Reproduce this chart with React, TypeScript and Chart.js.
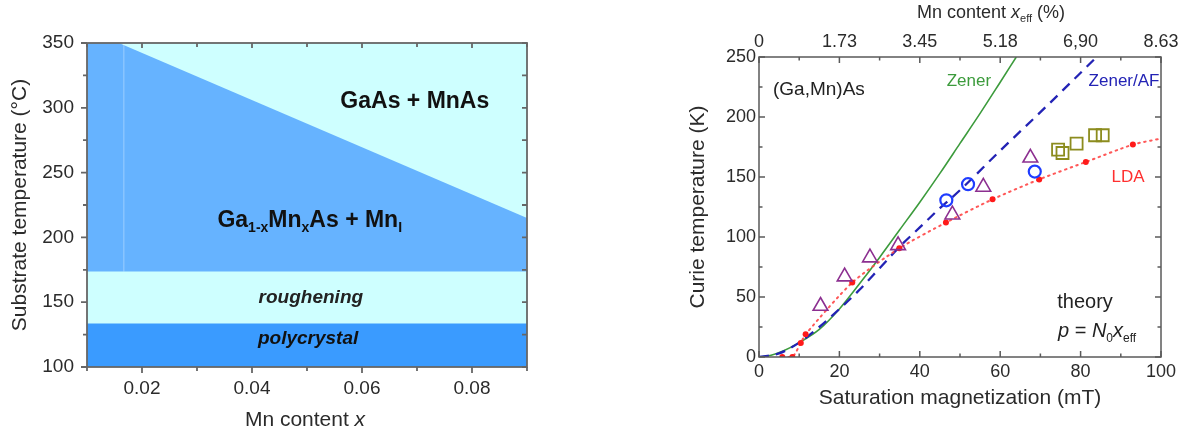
import React, { useEffect, useRef } from "react";
import { Chart, registerables } from "chart.js";
Chart.register(...registerables);

const FONT = 'Arial, "Liberation Sans", Helvetica, sans-serif';
const TEXT = "#2b2b2b";

// ---------- Left panel: growth phase diagram ----------
const mnContentRange = [0.01, 0.09];
const mnContentTicks = [0.02, 0.04, 0.06, 0.08];
const mnContentMinor = [0.01, 0.03, 0.05, 0.07, 0.09];
const substrateTempRange = [100, 350];
const substrateTempTicks = [100, 150, 200, 250, 300, 350];
const substrateTempMinor = [125, 175, 225, 275, 325];
const backgroundX = [0.01, 0.09];
const backgroundT = [350, 350];
const mnAsBoundaryX = [0.01, 0.0158, 0.09];
const mnAsBoundaryT = [350, 350, 215];
const seamX = [0.0167, 0.0167];
const seamT = [173.6, 350];
const roughBoundaryX = [0.01, 0.09];
const roughBoundaryT = [173.6, 173.6];
const polyBoundaryX = [0.01, 0.09];
const polyBoundaryT = [133.6, 133.6];

// ---------- Right panel: Curie temperature ----------
const magRange = [0, 100];
const magTicks = [0, 20, 40, 60, 80, 100];
const magMinor = [10, 30, 50, 70, 90];
const xeffLabels = ["0", "1.73", "3.45", "5.18", "6,90", "8.63"];
const curieRange = [0, 250];
const curieTicks = [0, 50, 100, 150, 200, 250];
const curieMinor = [25, 75, 125, 175, 225];

const zenerM = [0, 3, 6, 10, 15, 20, 25, 30, 35, 40, 45, 50, 55, 60, 64];
const zenerTc = [0, 1.5, 5, 12, 23, 40, 61, 83, 106, 129, 153, 178, 203, 229, 250];
const zenerAfM = [0, 5, 10, 15, 20, 25, 30, 35, 40, 45, 50, 60, 70, 84];
const zenerAfTc = [0, 3, 12, 25, 40, 56, 74, 92, 108, 124, 139, 172, 204, 250];
const ldaM = [5.8, 8.3, 10.4, 11.6, 23.2, 34.9, 46.5, 58.1, 69.7, 81.3, 93];
const ldaTc = [0, 0, 11.7, 19, 62, 90.6, 112, 131.4, 148, 162.5, 177];
const ldaTailM = [100];
const ldaTailTc = [182];
const triM = [15.3, 21.3, 27.6, 34.6, 48.1, 55.8, 67.5];
const triTc = [42.5, 67, 82.8, 93, 118.6, 141.7, 166];
const circM = [46.6, 52, 68.6];
const circTc = [130.6, 144, 154.5];
const sqM = [74.4, 75.5, 79, 83.6, 85.5];
const sqTc = [172.8, 170, 177.8, 184.8, 184.8];

const pts = (xs: number[], ys: number[]) => xs.map((x, i) => ({ x, y: ys[i] }));

type Seg = { t: string; i?: boolean; b?: boolean; sub?: boolean };
type Note = { x: number; y: number; segs: Seg[]; size: number; color: string; data?: boolean };

function drawRich(ctx: CanvasRenderingContext2D, x: number, y: number, segs: Seg[], size: number, color: string) {
  const fontFor = (s: Seg) =>
    `${s.i ? "italic " : ""}${s.b ? "bold " : ""}${s.sub ? Math.round(size * 0.6) : size}px ${FONT}`;
  let w = 0;
  for (const s of segs) {
    ctx.font = fontFor(s);
    w += ctx.measureText(s.t).width;
  }
  let cx = x - w / 2;
  ctx.textAlign = "left";
  ctx.textBaseline = "middle";
  ctx.fillStyle = color;
  for (const s of segs) {
    ctx.font = fontFor(s);
    ctx.fillText(s.t, cx, y + (s.sub ? size * 0.33 : 0));
    cx += ctx.measureText(s.t).width;
  }
}

function notesPlugin(notes: Note[]) {
  return {
    id: "notes",
    afterDatasetsDraw(chart: any) {
      const ctx = chart.ctx as CanvasRenderingContext2D;
      ctx.save();
      for (const n of notes) {
        const px = n.data ? chart.scales.x.getPixelForValue(n.x) : n.x;
        const py = n.data ? chart.scales.y.getPixelForValue(n.y) : n.y;
        drawRich(ctx, px, py, n.segs, n.size, n.color);
      }
      ctx.restore();
    },
  };
}

type Side = {
  side: "left" | "right" | "top" | "bottom";
  scale: string;
  major: number[];
  minor: number[];
  dir: "in" | "out";
  majorLen: number;
  minorLen: number;
};

function framePlugin(color: string, width: number, sides: Side[]) {
  return {
    id: "frame",
    afterDraw(chart: any) {
      const { ctx, chartArea: a } = chart;
      ctx.save();
      ctx.strokeStyle = color;
      ctx.lineWidth = width;
      ctx.strokeRect(a.left, a.top, a.right - a.left, a.bottom - a.top);
      ctx.beginPath();
      for (const s of sides) {
        const sc = chart.scales[s.scale];
        const sign = s.dir === "in" ? 1 : -1;
        const add = (vals: number[], len: number) =>
          vals.forEach((v) => {
            const p = sc.getPixelForValue(v);
            if (s.side === "left") {
              ctx.moveTo(a.left, p);
              ctx.lineTo(a.left + sign * len, p);
            } else if (s.side === "right") {
              ctx.moveTo(a.right, p);
              ctx.lineTo(a.right - sign * len, p);
            } else if (s.side === "top") {
              ctx.moveTo(p, a.top);
              ctx.lineTo(p, a.top + sign * len);
            } else {
              ctx.moveTo(p, a.bottom);
              ctx.lineTo(p, a.bottom - sign * len);
            }
          });
        add(s.major, s.majorLen);
        add(s.minor, s.minorLen);
      }
      ctx.stroke();
      ctx.restore();
    },
  };
}

const NONE = "rgba(0,0,0,0)";

function leftConfig(): any {
  const area = (xs: number[], ys: number[], color: string) => ({
    data: pts(xs, ys),
    backgroundColor: color,
    borderColor: NONE,
    borderWidth: 1,
    pointRadius: 0,
    fill: "start",
    tension: 0,
  });
  return {
    type: "line",
    data: {
      datasets: [
        area(polyBoundaryX, polyBoundaryT, "#3a9bff"),
        area(roughBoundaryX, roughBoundaryT, "#ceffff"),
        {
          data: pts(seamX, seamT),
          borderColor: "rgba(255,255,255,0.35)",
          borderWidth: 1,
          pointRadius: 0,
          fill: false,
        },
        area(mnAsBoundaryX, mnAsBoundaryT, "#66b3ff"),
        area(backgroundX, backgroundT, "#ceffff"),
      ],
    },
    options: {
      responsive: false,
      animation: false,
      devicePixelRatio: 1,
      events: [],
      layout: { padding: { top: 43, right: 33, left: 0, bottom: 0 } },
      plugins: { legend: { display: false }, tooltip: { enabled: false } },
      scales: {
        x: {
          type: "linear",
          min: mnContentRange[0],
          max: mnContentRange[1],
          afterBuildTicks: (s: any) => {
            s.ticks = mnContentTicks.map((v) => ({ value: v }));
          },
          afterFit: (s: any) => {
            s.height = 70;
          },
          grid: { display: false, drawTicks: false },
          border: { display: false },
          ticks: {
            padding: 10,
            color: TEXT,
            font: { size: 19, family: FONT },
            maxRotation: 0,
            autoSkip: false,
            callback: (v: any) => Number(v).toFixed(2),
          },
          title: { display: false },
        },
        y: {
          type: "linear",
          min: substrateTempRange[0],
          max: substrateTempRange[1],
          afterBuildTicks: (s: any) => {
            s.ticks = substrateTempTicks.map((v) => ({ value: v }));
          },
          afterFit: (s: any) => {
            s.width = 87;
          },
          grid: { display: false, drawTicks: false },
          border: { display: false },
          ticks: { padding: 13, color: TEXT, font: { size: 19, family: FONT } },
          title: {
            display: true,
            text: "Substrate temperature (°C)",
            color: TEXT,
            font: { size: 21, family: FONT },
            padding: { top: 8, bottom: 0 },
          },
        },
      },
    },
    plugins: [
      notesPlugin([
        { x: 0.0696, y: 304.6, segs: [{ t: "GaAs + MnAs", b: true }], size: 23, color: "#111", data: true },
        {
          x: 0.0505,
          y: 213,
          segs: [
            { t: "Ga", b: true },
            { t: "1-x", b: true, sub: true },
            { t: "Mn", b: true },
            { t: "x", b: true, sub: true },
            { t: "As + Mn", b: true },
            { t: "I", b: true, sub: true },
          ],
          size: 23,
          color: "#111",
          data: true,
        },
        { x: 0.0507, y: 153.8, segs: [{ t: "roughening", b: true, i: true }], size: 19, color: "#222", data: true },
        { x: 0.0502, y: 121.5, segs: [{ t: "polycrystal", b: true, i: true }], size: 19, color: "#111", data: true },
        { x: 305, y: 420, segs: [{ t: "Mn content " }, { t: "x", i: true }], size: 21, color: TEXT },
      ]),
      framePlugin("#666", 1.8, [
        { side: "left", scale: "y", major: substrateTempTicks, minor: substrateTempMinor, dir: "out", majorLen: 6, minorLen: 4 },
        { side: "right", scale: "y", major: substrateTempTicks, minor: substrateTempMinor, dir: "in", majorLen: 5, minorLen: 5 },
        { side: "top", scale: "x", major: mnContentTicks, minor: mnContentMinor, dir: "in", majorLen: 5, minorLen: 4 },
        { side: "bottom", scale: "x", major: mnContentTicks, minor: mnContentMinor, dir: "out", majorLen: 6, minorLen: 4 },
      ]),
    ],
  };
}

function rightConfig(): any {
  const curve = (xs: number[], ys: number[], color: string, width: number, dash: number[]) => ({
    data: pts(xs, ys),
    borderColor: color,
    borderWidth: width,
    borderDash: dash,
    pointRadius: 0,
    fill: false,
    cubicInterpolationMode: "monotone",
  });
  const marks = (xs: number[], ys: number[], style: string, r: number, color: string, w: number, bg = NONE) => ({
    data: pts(xs, ys),
    showLine: false,
    pointStyle: style,
    pointRadius: r,
    pointBorderColor: color,
    pointBackgroundColor: bg,
    pointBorderWidth: w,
    borderColor: color,
    backgroundColor: bg,
    fill: false,
  });
  const tickFont = { size: 18, family: FONT };
  return {
    type: "line",
    data: {
      datasets: [
        marks(sqM, sqTc, "rect", 8.5, "#8c8c1e", 1.8),
        marks(circM, circTc, "circle", 6, "#1f3cff", 2.2),
        marks(triM, triTc, "triangle", 8.5, "#8c2f90", 1.6),
        marks(ldaM, ldaTc, "circle", 3, "#ff1a1a", 0, "#ff1a1a"),
        {
          data: pts([...ldaM, ...ldaTailM], [...ldaTc, ...ldaTailTc]),
          borderColor: "rgba(255,70,70,0.9)",
          borderWidth: 2,
          borderDash: [1.5, 4.5],
          borderCapStyle: "round",
          pointRadius: 0,
          fill: false,
          tension: 0.25,
        },
        curve(zenerAfM, zenerAfTc, "#2323b5", 2.3, [10, 7]),
        curve(zenerM, zenerTc, "#3c9b3c", 1.6, []),
      ],
    },
    options: {
      responsive: false,
      animation: false,
      devicePixelRatio: 1,
      events: [],
      layout: { padding: { top: 0, right: 27, left: 0, bottom: 0 } },
      plugins: { legend: { display: false }, tooltip: { enabled: false } },
      scales: {
        x: {
          type: "linear",
          position: "bottom",
          min: magRange[0],
          max: magRange[1],
          afterBuildTicks: (s: any) => {
            s.ticks = magTicks.map((v) => ({ value: v }));
          },
          afterFit: (s: any) => {
            s.height = 80;
          },
          grid: { display: false, drawTicks: false },
          border: { display: false },
          ticks: { padding: 4, color: TEXT, font: tickFont, maxRotation: 0, autoSkip: false },
          title: {
            display: true,
            text: "Saturation magnetization (mT)",
            color: TEXT,
            font: { size: 21, family: FONT },
            padding: { top: 0, bottom: 26 },
          },
        },
        x2: {
          type: "linear",
          position: "top",
          min: magRange[0],
          max: magRange[1],
          afterBuildTicks: (s: any) => {
            s.ticks = magTicks.map((v) => ({ value: v }));
          },
          afterFit: (s: any) => {
            s.height = 57;
          },
          grid: { display: false, drawTicks: false },
          border: { display: false },
          ticks: {
            padding: 4,
            color: TEXT,
            font: tickFont,
            maxRotation: 0,
            autoSkip: false,
            callback: (_v: any, i: number) => xeffLabels[i],
          },
          title: { display: false },
        },
        y: {
          type: "linear",
          min: curieRange[0],
          max: curieRange[1],
          afterBuildTicks: (s: any) => {
            s.ticks = curieTicks.map((v) => ({ value: v }));
          },
          afterFit: (s: any) => {
            s.width = 79;
          },
          grid: { display: false, drawTicks: false },
          border: { display: false },
          ticks: { padding: 3, color: TEXT, font: tickFont },
          title: {
            display: true,
            text: "Curie temperature (K)",
            color: TEXT,
            font: { size: 21, family: FONT },
            padding: { top: 6, bottom: 0 },
          },
        },
      },
    },
    plugins: [
      notesPlugin([
        { x: 14.9, y: 222.3, segs: [{ t: "(Ga,Mn)As" }], size: 19, color: "#222", data: true },
        { x: 52.2, y: 229.8, segs: [{ t: "Zener" }], size: 17, color: "#3c9b3c", data: true },
        { x: 90.8, y: 229.8, segs: [{ t: "Zener/AF" }], size: 17, color: "#2323b5", data: true },
        { x: 91.8, y: 149.8, segs: [{ t: "LDA" }], size: 17, color: "#ff3030", data: true },
        { x: 81.1, y: 45.6, segs: [{ t: "theory" }], size: 20, color: "#222", data: true },
        {
          x: 84.1,
          y: 21,
          segs: [
            { t: "p", i: true },
            { t: " = " },
            { t: "N", i: true },
            { t: "0", sub: true },
            { t: "x", i: true },
            { t: "eff", sub: true },
          ],
          size: 20,
          color: "#222",
          data: true,
        },
        {
          x: 311,
          y: 13,
          segs: [{ t: "Mn content " }, { t: "x", i: true }, { t: "eff", sub: true }, { t: " (%)" }],
          size: 18,
          color: TEXT,
        },
      ]),
      framePlugin("#5a5a5a", 1.5, [
        { side: "left", scale: "y", major: curieTicks, minor: curieMinor, dir: "in", majorLen: 6, minorLen: 3.5 },
        { side: "right", scale: "y", major: curieTicks, minor: curieMinor, dir: "in", majorLen: 6, minorLen: 3.5 },
        { side: "top", scale: "x", major: magTicks, minor: magMinor, dir: "in", majorLen: 6, minorLen: 3.5 },
        { side: "bottom", scale: "x", major: magTicks, minor: magMinor, dir: "in", majorLen: 6, minorLen: 3.5 },
      ]),
    ],
  };
}

function ChartCanvas({ make, left, width, height }: { make: () => any; left: number; width: number; height: number }) {
  const ref = useRef<HTMLCanvasElement>(null);
  useEffect(() => {
    const chart = new Chart(ref.current as HTMLCanvasElement, make());
    return () => chart.destroy();
  }, []);
  return (
    <canvas
      ref={ref}
      width={width}
      height={height}
      style={{ position: "absolute", left, top: 0, width, height, display: "block" }}
    />
  );
}

export default function App() {
  return (
    <div style={{ position: "absolute", left: 0, top: 0, width: 1188, height: 437, background: "#fff", overflow: "hidden" }}>
      <ChartCanvas make={leftConfig} left={0} width={560} height={437} />
      <ChartCanvas make={rightConfig} left={680} width={508} height={437} />
    </div>
  );
}
